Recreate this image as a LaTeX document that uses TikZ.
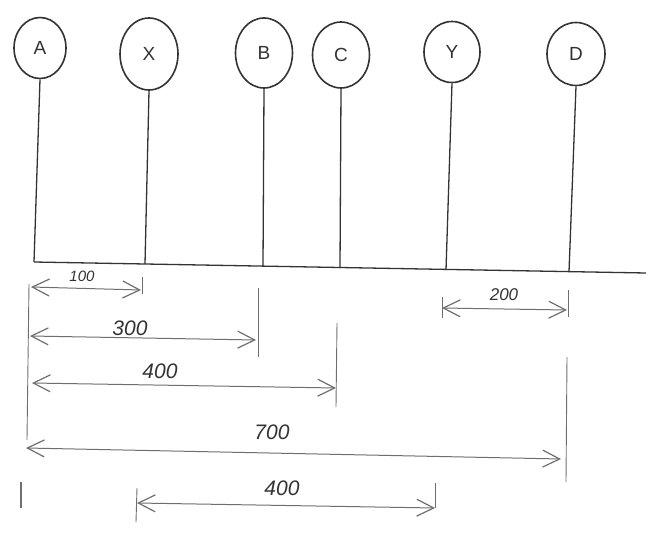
\documentclass[tikz,border=0pt]{standalone}
\usepackage{fontspec}
\setmainfont{Liberation Sans}
\usetikzlibrary{shapes.geometric,arrows.meta}
\definecolor{pencil}{HTML}{333333}
\definecolor{lightpencil}{HTML}{6E6E6E}
\tikzset{
  chevtip/.tip={Straight Barb[length=17pt,width=17pt,line width=1.2pt]},
  station/.style={ellipse,draw=pencil,line width=1.6pt,inner sep=0pt,text=pencil,font=\fontsize{19}{19}\selectfont},
  post/.style={draw=pencil,line width=1.3pt},
  guide/.style={draw=lightpencil,line width=0.9pt},
  dimline/.style={draw=lightpencil,line width=1pt,chevtip-chevtip},
  dimlabel/.style={text=pencil,font=\itshape\fontsize{21}{21}\selectfont,inner sep=0pt}
}
\begin{document}
\begin{tikzpicture}[x=1pt,y=-1pt]
\useasboundingbox (0,0) rectangle (654,533);
% stations
\node[station,minimum width=52pt,minimum height=61pt] (a) at (40,48) {A};
\node[station,minimum width=58pt,minimum height=72pt] (x) at (149,54) {X};
\node[station,minimum width=57pt,minimum height=70pt] (b) at (264,53) {B};
\node[station,minimum width=57pt,minimum height=66pt] (c) at (341,55) {C};
\node[station,minimum width=56pt,minimum height=61pt] (y) at (452,52) {Y};
\node[station,minimum width=58pt,minimum height=63pt] (d) at (576,54) {D};
% baseline points
\coordinate (pA) at (34,262);
\coordinate (pX) at (145,264);
\coordinate (pB) at (263,266);
\coordinate (pC) at (340,268);
\coordinate (pY) at (446,270);
\coordinate (pD) at (569,272);
\coordinate (pE) at (646,273);
% posts and baseline
\draw[post] (a.south) -- (pA);
\draw[post] (x.south) -- (pX);
\draw[post] (b.south) -- (pB);
\draw[post] (c.south) -- (pC);
\draw[post] (y.south) -- (pY);
\draw[post] (d.south) -- (pD);
\draw[post] (pA) -- (pE);
% extension guides
\coordinate (gA1) at (29,284); \coordinate (gA2) at (27,440);
\draw[guide] (gA1) -- (gA2);
\coordinate (gA3) at (21,482); \coordinate (gA4) at (21,508);
\draw[guide,line width=1.2pt] (gA3) -- (gA4);
\coordinate (gX1) at (142,277); \coordinate (gX2) at (142,294);
\draw[guide] (gX1) -- (gX2);
\coordinate (gB1) at (258,288); \coordinate (gB2) at (258,357);
\draw[guide] (gB1) -- (gB2);
\coordinate (gC1) at (337,323); \coordinate (gC2) at (336,407);
\draw[guide] (gC1) -- (gC2);
\coordinate (gY1) at (442,297); \coordinate (gY2) at (442,318);
\draw[guide] (gY1) -- (gY2);
\coordinate (gD1) at (568,290); \coordinate (gD2) at (568,317);
\draw[guide] (gD1) -- (gD2);
\coordinate (gD3) at (567,357); \coordinate (gD4) at (566,482);
\draw[guide] (gD3) -- (gD4);
\coordinate (gL1) at (137,488); \coordinate (gL2) at (136,522);
\draw[guide] (gL1) -- (gL2);
\coordinate (gR1) at (435,483); \coordinate (gR2) at (435,508);
\draw[guide] (gR1) -- (gR2);
% dimension arrows
\coordinate (d1s) at (31,287); \coordinate (d1e) at (141,290);
\draw[dimline] (d1s) -- (d1e);
\node[dimlabel,font=\itshape\fontsize{15}{15}\selectfont] (l100) at (82,276) {100};
\coordinate (d3s) at (30,336); \coordinate (d3e) at (256,340);
\draw[dimline] (d3s) -- (d3e);
\node[dimlabel] (l300) at (130,328) {300};
\coordinate (d4s) at (32,383); \coordinate (d4e) at (336,388);
\draw[dimline] (d4s) -- (d4e);
\node[dimlabel] (l400) at (160,371) {400};
\coordinate (d2s) at (442,308); \coordinate (d2e) at (567,310);
\draw[dimline] (d2s) -- (d2e);
\node[dimlabel,font=\itshape\fontsize{17}{17}\selectfont] (l200) at (504,295) {200};
\coordinate (d7s) at (26,448); \coordinate (d7e) at (561,459);
\draw[dimline] (d7s) -- (d7e);
\node[dimlabel] (l700) at (272,432) {700};
\coordinate (d5s) at (137,503); \coordinate (d5e) at (435,508);
\draw[dimline] (d5s) -- (d5e);
\node[dimlabel] (l400b) at (282,488) {400};
\end{tikzpicture}
\end{document}
